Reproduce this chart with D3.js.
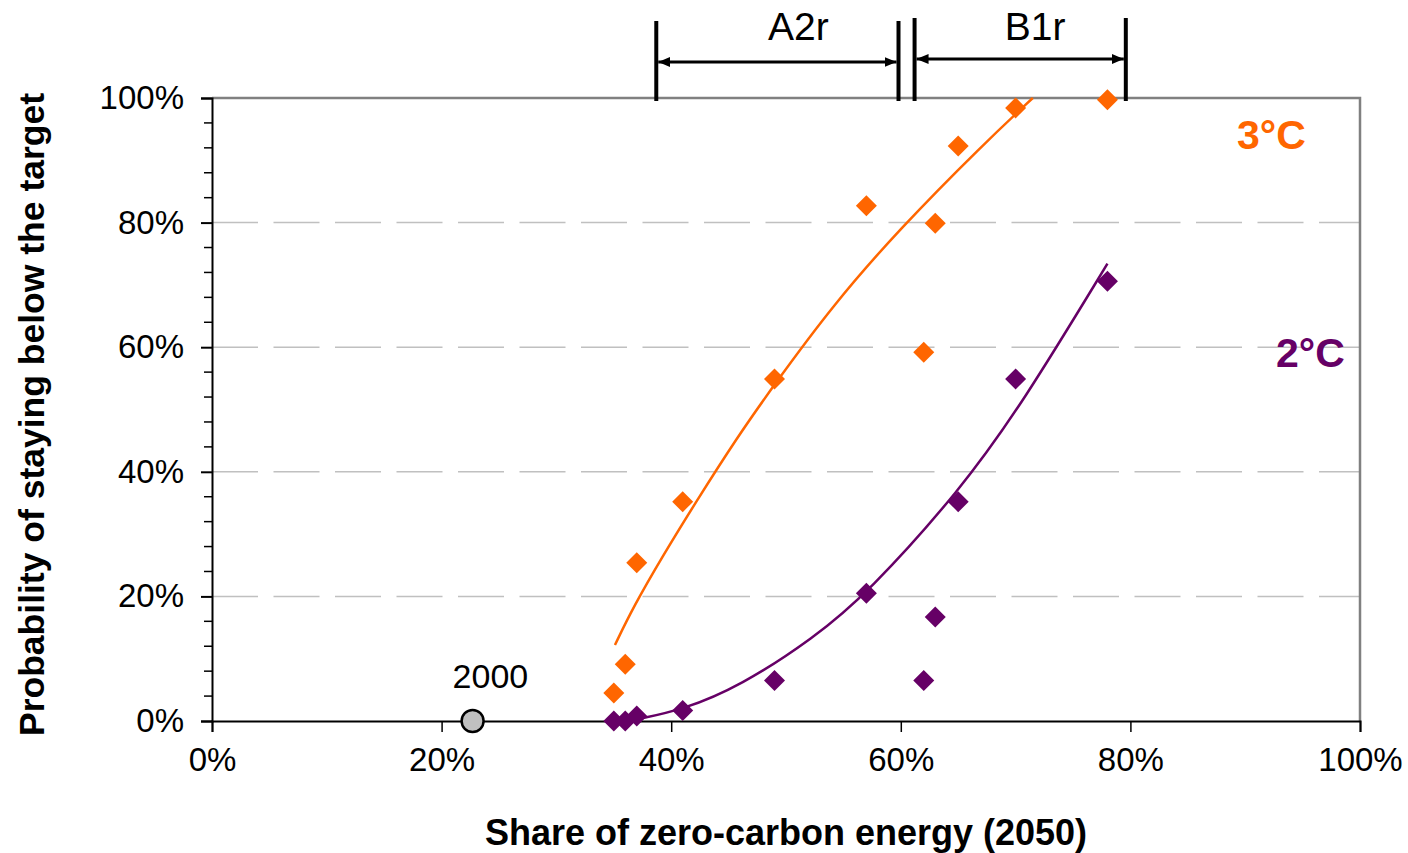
<!DOCTYPE html>
<html>
<head>
<meta charset="utf-8">
<script src="https://cdn.jsdelivr.net/npm/d3@7"></script>
<style>
  html, body { margin: 0; padding: 0; background: #fff; }
  svg { display: block; font-family: Arial, "Liberation Sans", sans-serif; }
</style>
</head>
<body>
<svg id="chart" width="1408" height="853"></svg>
<script>
// Scenario results: share of zero-carbon energy in 2050 vs probability of staying below target
const shares  = [0.35, 0.36, 0.37, 0.41, 0.49, 0.57, 0.62, 0.63, 0.65, 0.70, 0.78];
const prob3C  = [0.045, 0.091, 0.254, 0.352, 0.549, 0.827, 0.592, 0.799, 0.923, 0.984, 0.997];
const prob2C  = [0.000, 0.000, 0.008, 0.017, 0.065, 0.205, 0.065, 0.167, 0.352, 0.549, 0.706];

// Trend curves
const trend3CShare = [0.351, 0.367, 0.393, 0.421, 0.457, 0.489, 0.541, 0.599, 0.672, 0.715];
const trend3CProb  = [0.122, 0.183, 0.266, 0.350, 0.454, 0.538, 0.668, 0.790, 0.926, 1.000];
const trend2CShare = [0.371, 0.410, 0.460, 0.524, 0.571, 0.652, 0.706, 0.780];
const trend2CProb  = [0.003, 0.018, 0.056, 0.133, 0.205, 0.371, 0.510, 0.734];

// Year-2000 reference point
const refYear = ["2000"];
const refShare = [0.227];
const refProb = [0];

// Scenario ranges
const rangeNames = ["A2r", "B1r"];
const rangeFrom  = [0.387, 0.612];
const rangeTo    = [0.598, 0.796];

// Axis ticks
const xTicks = [0, 0.2, 0.4, 0.6, 0.8, 1.0];
const yTicks = [0, 0.2, 0.4, 0.6, 0.8, 1.0];
const yMinorTicks = d3.range(0, 1.0001, 0.04);

const seriesNames = ["3°C", "2°C"];
const seriesColors = ["#ff6600", "#660066"];

const svg = d3.select("#chart");
const plotL = 212, plotR = 1360, plotT = 98, plotB = 721;
const x = d3.scaleLinear().domain([0, 1]).range([plotL, plotR]);
const y = d3.scaleLinear().domain([0, 1]).range([plotB, plotT]);
const pct = d => Math.round(d * 100) + "%";

// Horizontal gridlines
svg.append("g").selectAll("line")
  .data(yTicks.filter(d => d > 0 && d < 1))
  .join("line")
  .attr("x1", plotL).attr("x2", plotR)
  .attr("y1", d => y(d)).attr("y2", d => y(d))
  .attr("stroke", "#c0c0c0").attr("stroke-width", 1.5)
  .attr("stroke-dasharray", "46,15.5");

// Plot frame (top and right)
svg.append("path")
  .attr("d", `M${plotL},${plotT}H${plotR}V${plotB}`)
  .attr("fill", "none").attr("stroke", "#808080").attr("stroke-width", 2.5);

// Y axis
const yAxis = svg.append("g").attr("transform", `translate(${plotL},0)`)
  .call(d3.axisLeft(y).tickValues(yTicks).tickFormat(pct).tickSize(11).tickPadding(17));
yAxis.select(".domain").attr("stroke", "#000").attr("stroke-width", 2);
yAxis.selectAll(".tick line").attr("stroke", "#000").attr("stroke-width", 2);
yAxis.selectAll("text").attr("font-size", 33).attr("fill", "#000");
svg.append("g").selectAll("line")
  .data(yMinorTicks.filter(d => Math.round(d * 100) % 20 !== 0))
  .join("line")
  .attr("x1", plotL - 8).attr("x2", plotL)
  .attr("y1", d => y(d)).attr("y2", d => y(d))
  .attr("stroke", "#000").attr("stroke-width", 1.5);

// X axis
const xAxis = svg.append("g").attr("transform", `translate(0,${plotB})`)
  .call(d3.axisBottom(x).tickValues(xTicks).tickFormat(pct).tickSize(11).tickPadding(16));
xAxis.select(".domain").attr("stroke", "#000").attr("stroke-width", 2);
xAxis.selectAll(".tick line").attr("stroke", "#000").attr("stroke-width", 1.5);
xAxis.selectAll("text").attr("font-size", 33).attr("fill", "#000");

// Axis titles
svg.append("text")
  .attr("x", (plotL + plotR) / 2).attr("y", 845)
  .attr("text-anchor", "middle").attr("font-size", 36).attr("font-weight", "bold")
  .text("Share of zero-carbon energy (2050)");
svg.append("text")
  .attr("transform", `translate(44,${(92 + 737) / 2}) rotate(-90)`)
  .attr("text-anchor", "middle").attr("font-size", 35.5).attr("font-weight", "bold")
  .text("Probability of staying below the target");

// Trend lines
const line = d3.line().x(d => x(d[0])).y(d => y(d[1])).curve(d3.curveBasis);
const trends = [d3.zip(trend3CShare, trend3CProb), d3.zip(trend2CShare, trend2CProb)];
svg.append("g").selectAll("path")
  .data(trends)
  .join("path")
  .attr("d", line)
  .attr("fill", "none")
  .attr("stroke", (d, i) => seriesColors[i])
  .attr("stroke-width", 2.5);

// Scenario markers (diamonds)
const diamond = "M0,-10.5L10.5,0L0,10.5L-10.5,0Z";
[prob3C, prob2C].forEach((vals, i) => {
  svg.append("g").selectAll("path")
    .data(d3.zip(shares, vals))
    .join("path")
    .attr("d", diamond)
    .attr("transform", d => `translate(${x(d[0])},${y(d[1])})`)
    .attr("fill", seriesColors[i]);
});

// Series labels
svg.append("text").attr("x", 1237).attr("y", 149)
  .attr("font-size", 41).attr("font-weight", "bold").attr("fill", seriesColors[0])
  .text(seriesNames[0]);
svg.append("text").attr("x", 1276).attr("y", 367)
  .attr("font-size", 41).attr("font-weight", "bold").attr("fill", seriesColors[1])
  .text(seriesNames[1]);

// 2000 reference point
svg.append("circle")
  .attr("cx", x(refShare[0])).attr("cy", y(refProb[0])).attr("r", 11)
  .attr("fill", "#c0c0c0").attr("stroke", "#000").attr("stroke-width", 2.5);
svg.append("text")
  .attr("x", x(refShare[0]) - 20).attr("y", 688)
  .attr("font-size", 34).text(refYear[0]);

// Scenario range brackets with double-headed arrows
const defs = svg.append("defs");
["arrowEnd", "arrowStart"].forEach((id, k) => {
  defs.append("marker")
    .attr("id", id).attr("viewBox", "0 0 12 10")
    .attr("refX", k === 0 ? 12 : 0).attr("refY", 5)
    .attr("markerWidth", 12).attr("markerHeight", 10)
    .attr("markerUnits", "userSpaceOnUse")
    .attr("orient", "auto")
    .append("path")
    .attr("d", k === 0 ? "M0,0L12,5L0,10Z" : "M12,0L0,5L12,10Z")
    .attr("fill", "#000");
});
const brackets = svg.append("g");
rangeNames.forEach((name, i) => {
  const x0 = x(rangeFrom[i]), x1 = x(rangeTo[i]);
  const barTop = i === 0 ? 21 : 18;
  const arrowY = i === 0 ? 62 : 59;
  [x0, x1].forEach(xx => {
    brackets.append("line")
      .attr("x1", xx).attr("x2", xx).attr("y1", barTop).attr("y2", plotT + 3)
      .attr("stroke", "#000").attr("stroke-width", 4);
  });
  brackets.append("line")
    .attr("x1", x0 + 2).attr("x2", x1 - 2)
    .attr("y1", arrowY).attr("y2", arrowY)
    .attr("stroke", "#000").attr("stroke-width", 3)
    .attr("marker-start", "url(#arrowStart)")
    .attr("marker-end", "url(#arrowEnd)");
  brackets.append("text")
    .attr("x", (x0 + x1) / 2 + (i === 0 ? 21 : 15)).attr("y", 40)
    .attr("text-anchor", "middle").attr("font-size", 39)
    .text(name);
});
</script>
</body>
</html>
